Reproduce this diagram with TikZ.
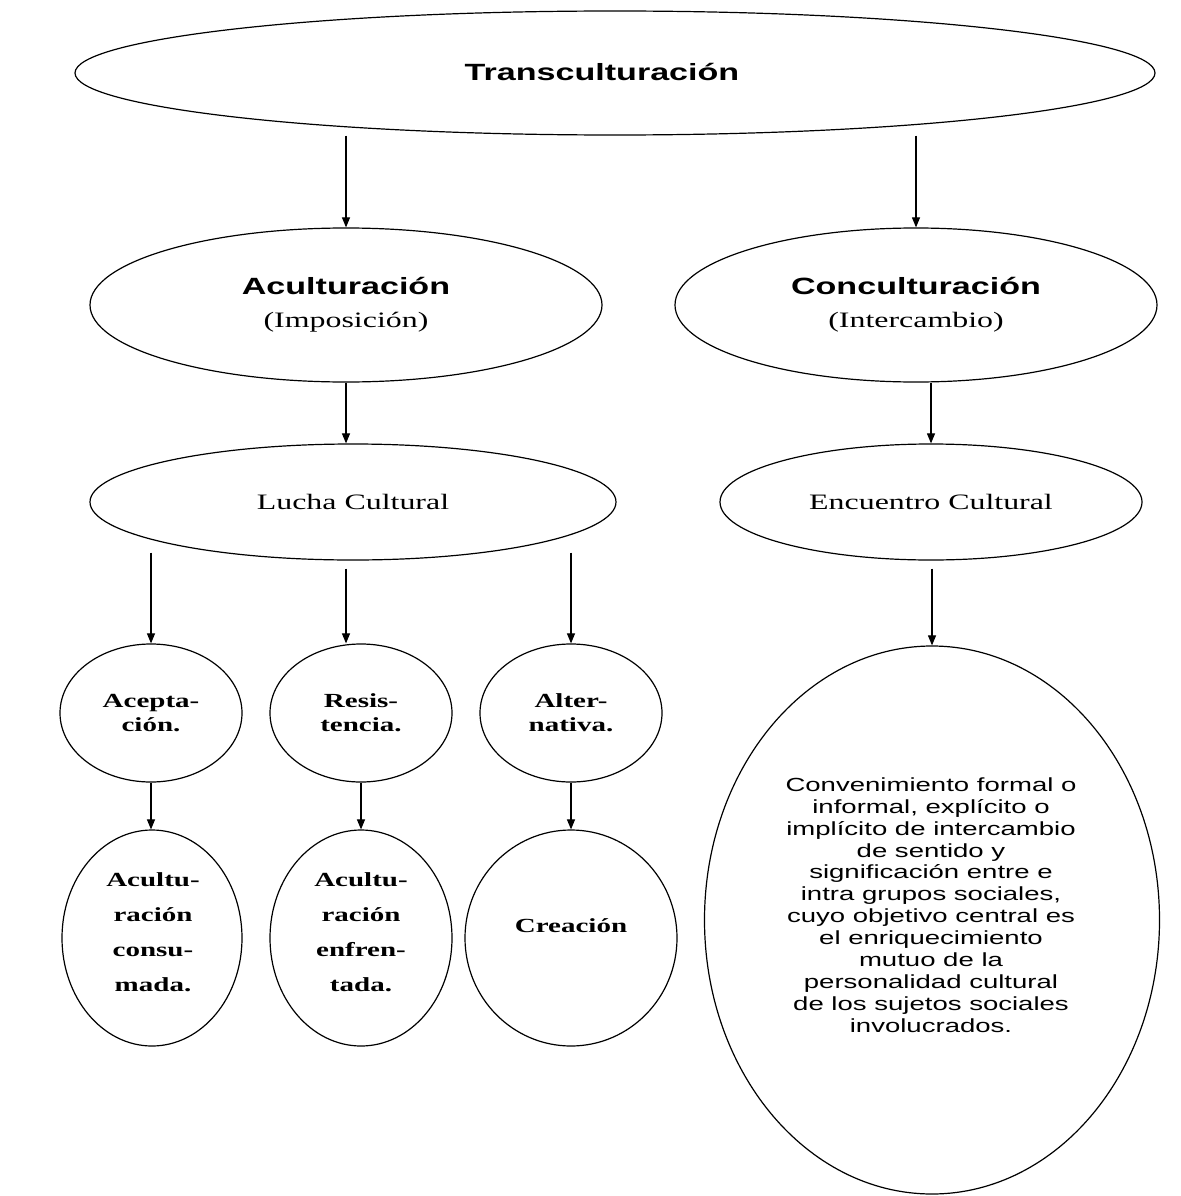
\documentclass[tikz,border=0pt]{standalone}
\usepackage{fontspec}
\setmainfont{Liberation Serif}[FakeStretch=1.45]
\newfontfamily\sansx{Liberation Sans}[FakeStretch=1.45]
\usetikzlibrary{shapes.geometric,arrows.meta}
\newcommand\hdrtxt[1]{{\sansx\bfseries\fontsize{23.5}{33}\selectfont #1}}
\begin{document}
\begin{tikzpicture}[x=1pt,y=-1pt,
  oval/.style={draw,ellipse,line width=1.2pt,inner sep=0pt,align=center},
  txt/.style={inner sep=0pt,align=center},
  hdr/.style={oval,minimum height=154pt,font=\fontsize{22}{33}\selectfont},
  mid/.style={oval,minimum height=116pt,font=\fontsize{22}{26}\selectfont},
  circ/.style={oval,minimum width=182pt,minimum height=138pt,font=\bfseries\fontsize{20}{24}\selectfont},
  low/.style={oval,minimum height=216pt,font=\bfseries\fontsize{20}{35}\selectfont},
  arr/.style={line width=1.1pt,-{Triangle[length=10pt,width=8pt]}}]
\useasboundingbox (0,0) rectangle (1180,1196);
\fill[white] (0,0) rectangle (1180,1196);

\node[oval,minimum width=1080pt,minimum height=124pt] (trans) at (615,73) {};
\node[txt] (transtxt) at (602,72) {\hdrtxt{Transculturación}};

\node[hdr,minimum width=512pt] (acu) at (346,305) {\hdrtxt{Aculturación}\\(Imposición)};
\node[hdr,minimum width=482pt] (conc) at (916,305) {\hdrtxt{Conculturación}\\(Intercambio)};

\node[mid,minimum width=526pt] (lucha) at (353,502) {Lucha Cultural};
\node[mid,minimum width=422pt] (enc) at (931,502) {Encuentro Cultural};

\node[circ] (ace) at (151,713) {Acepta-\\ción.};
\node[circ] (res) at (361,713) {Resis-\\tencia.};
\node[circ] (alt) at (571,713) {Alter-\\nativa.};

\node[low,minimum width=180pt] (cons) at (152,938) {};
\node[txt,font=\bfseries\fontsize{20}{35}\selectfont] (constxt) at (153,932) {Acultu-\\ración\\consu-\\mada.};
\node[low,minimum width=182pt] (enf) at (361,938) {};
\node[txt,font=\bfseries\fontsize{20}{35}\selectfont] (enftxt) at (361,932) {Acultu-\\ración\\enfren-\\tada.};
\node[low,minimum width=212pt] (crea) at (571,938) {};
\node[txt,font=\bfseries\fontsize{20}{24}\selectfont] (creatxt) at (571,926) {Creación};

\node[oval,minimum width=455pt,minimum height=548pt] (conv) at (932,920) {};
\node[txt,font=\sansx\fontsize{19}{21.9}\selectfont] (convtxt) at (931,905)
 {Convenimiento formal o\\informal, explícito o\\implícito de intercambio\\de sentido y\\significación entre e\\intra grupos sociales,\\cuyo objetivo central es\\el enriquecimiento\\mutuo de la\\personalidad cultural\\de los sujetos sociales\\involucrados.};

\draw[arr] (trans.south -| acu.north) -- (acu.north);
\draw[arr] (trans.south -| conc.north) -- (conc.north);
\draw[arr] (acu.south) -- (acu.south |- lucha.north);
\draw[arr] (enc.north |- conc.south) -- (enc.north);
\draw[arr] ([yshift=8pt]lucha.south -| ace.north) -- (ace.north);
\draw[arr] ([yshift=-8pt]lucha.south -| acu.south) -- (acu.south |- res.north);
\draw[arr] ([yshift=8pt]lucha.south -| alt.north) -- (alt.north);
\draw[arr] ([yshift=-8pt]enc.south -| conv.north) -- (conv.north);
\draw[arr] (ace.south) -- (ace.south |- cons.north);
\draw[arr] (res.south) -- (enf.north);
\draw[arr] (alt.south) -- (crea.north);
\end{tikzpicture}
\end{document}
